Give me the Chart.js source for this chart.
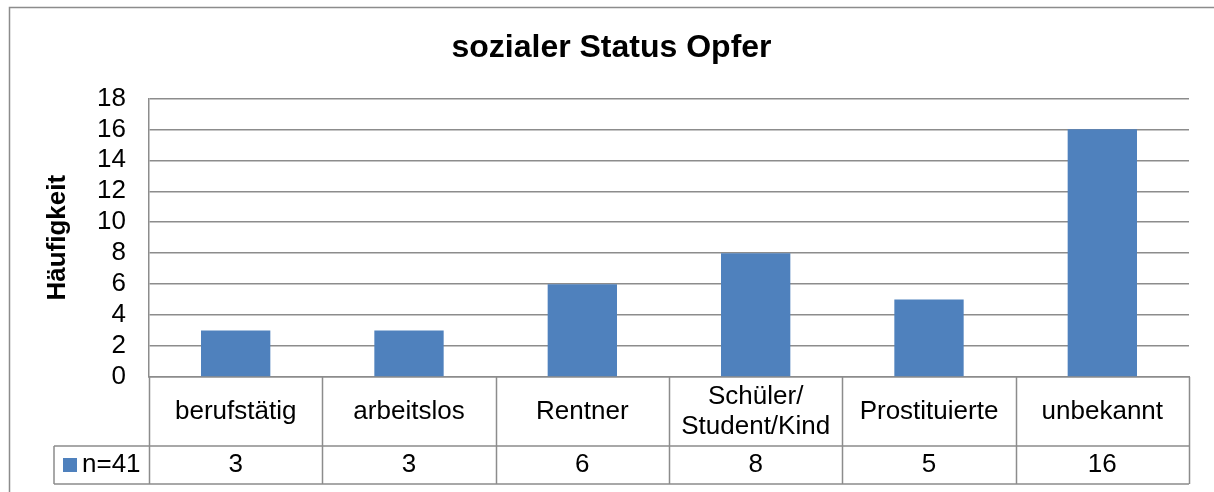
<!DOCTYPE html>
<html>
<head>
<meta charset="utf-8">
<script src="https://cdn.jsdelivr.net/npm/chart.js@4"></script>
<style>
  body { margin: 0; background: #fff; }
  canvas { display: block; }
</style>
</head>
<body>
<canvas id="statusChart" width="1214" height="492"></canvas>
<script>
// Data
const categories = ['berufstätig', 'arbeitslos', 'Rentner', ['Schüler/', 'Student/Kind'], 'Prostituierte', 'unbekannt'];
const counts = [3, 3, 6, 8, 5, 16];
const seriesLabel = 'n=41';
const yMax = 18;
const yStep = 2;

const FONT = "'Liberation Sans', Arial, sans-serif";
const BAR_COLOR = '#4F81BD';
const LINE_COLOR = '#8C8C8C';

// Chart frame + data table under the bars
const tablePlugin = {
    id: 'dataTable',
    afterLayout(chart) {
        // title is centred over the whole frame, not only the plot width
        if (chart.titleBlock) {
            chart.titleBlock.left += 34;
        }
    },
    beforeDraw(chart) {
        const ctx = chart.ctx;
        ctx.save();
        ctx.fillStyle = '#fff';
        ctx.fillRect(0, 0, chart.width, chart.height);
        ctx.strokeStyle = LINE_COLOR;
        ctx.lineWidth = 1.5;
        ctx.strokeRect(9.5, 7.5, chart.width + 20, chart.height + 20);
        ctx.restore();
    },
    afterDraw(chart) {
        const ctx = chart.ctx;
        const xs = chart.scales.x;
        const area = chart.chartArea;
        const colW = xs.width / categories.length;
        const top = area.bottom;
        const bottom = xs.bottom;
        const split = top + 69;
        const legendLeft = 54;

        ctx.save();
        ctx.strokeStyle = LINE_COLOR;
        ctx.lineWidth = 1.5;
        ctx.beginPath();
        for (let i = 0; i <= categories.length; i++) {
            const x = Math.round(xs.left + i * colW) + 0.5;
            ctx.moveTo(x, top);
            ctx.lineTo(x, bottom);
        }
        ctx.moveTo(legendLeft, split);
        ctx.lineTo(xs.right, split);
        ctx.moveTo(legendLeft, bottom);
        ctx.lineTo(xs.right, bottom);
        ctx.moveTo(legendLeft, split);
        ctx.lineTo(legendLeft, bottom);
        ctx.stroke();

        ctx.fillStyle = '#000';
        ctx.font = '26px ' + FONT;
        ctx.textAlign = 'center';
        ctx.textBaseline = 'middle';
        const catMid = (top + split) / 2;
        const valMid = (split + bottom) / 2;
        categories.forEach((label, i) => {
            const x = xs.getPixelForValue(i);
            if (Array.isArray(label)) {
                ctx.fillText(label[0], x, catMid - 15);
                ctx.fillText(label[1], x, catMid + 15);
            } else {
                ctx.fillText(label, x, catMid);
            }
            ctx.fillText(String(counts[i]), x, valMid);
        });

        // legend key
        ctx.fillStyle = BAR_COLOR;
        ctx.fillRect(63, valMid - 7, 14, 14);
        ctx.fillStyle = '#000';
        ctx.textAlign = 'left';
        ctx.fillText(seriesLabel, 82, valMid);
        ctx.restore();
    }
};

const ctx = document.getElementById('statusChart').getContext('2d');
const statusChart = new Chart(ctx, {
    type: 'bar',
    data: {
        labels: categories,
        datasets: [{
            label: seriesLabel,
            data: counts,
            backgroundColor: BAR_COLOR,
            borderWidth: 0,
            barPercentage: 0.4,
            categoryPercentage: 1
        }]
    },
    options: {
        responsive: false,
        animation: false,
        layout: {
            padding: { left: 0, right: 25, top: 0, bottom: 8 }
        },
        plugins: {
            legend: { display: false },
            tooltip: { enabled: false },
            title: {
                display: true,
                text: 'sozialer Status Opfer',
                color: '#000',
                font: { family: FONT, size: 32, weight: 'bold', lineHeight: 1.2 },
                padding: { top: 29, bottom: 31 }
            }
        },
        scales: {
            x: {
                afterFit: scale => { scale.height = 107; },
                ticks: { display: false },
                grid: { display: false },
                border: { display: true, color: LINE_COLOR, width: 1.5 }
            },
            y: {
                min: 0,
                max: yMax,
                afterFit: scale => { scale.width = 149; },
                ticks: {
                    stepSize: yStep,
                    autoSkip: false,
                    padding: 23,
                    color: '#000',
                    font: { family: FONT, size: 26 }
                },
                grid: {
                    color: LINE_COLOR,
                    lineWidth: 1.5,
                    drawTicks: false
                },
                border: { display: true, color: LINE_COLOR, width: 1.5 },
                title: {
                    display: true,
                    text: 'Häufigkeit',
                    color: '#000',
                    font: { family: FONT, size: 26, weight: 'bold', lineHeight: 1.2 },
                    padding: { top: 42, bottom: 0 }
                }
            }
        }
    },
    plugins: [tablePlugin]
});
</script>
</body>
</html>
